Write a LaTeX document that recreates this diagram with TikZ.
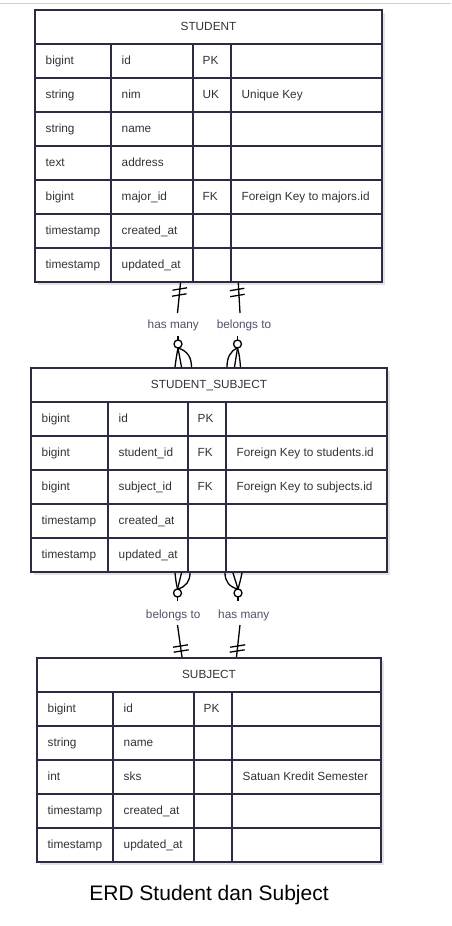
\documentclass[tikz,border=0pt]{standalone}
\usepackage{fontspec}
\setmainfont{Liberation Sans}
\usetikzlibrary{calc}
\definecolor{erdborder}{HTML}{2D2B42}
\definecolor{erdtext}{HTML}{333333}
\definecolor{erdlabel}{HTML}{505268}
\definecolor{erdshadow}{HTML}{E2E2E2}
\definecolor{topline}{HTML}{CFCFCF}

\tikzset{
  tablebox/.style={draw=erdborder, line width=1.8pt, fill=white, anchor=north west, inner sep=0pt, outer sep=0pt},
  gridline/.style={draw=erdborder, line width=1.8pt},
  celltext/.style={anchor=west, inner sep=0pt, text height=9pt, text depth=2.5pt, text=erdtext, font=\fontsize{11.8}{14}\selectfont},
  titletext/.style={anchor=center, inner sep=0pt, text height=9pt, text depth=2.5pt, text=erdtext, font=\fontsize{11.8}{14}\selectfont},
  rel/.style={anchor=center, inner sep=0pt, text height=9pt, text depth=2.5pt, text=erdlabel, font=\fontsize{11.8}{14}\selectfont},
  conn/.style={draw=black, line width=1.3pt},
  circ/.style={circle, draw=black, line width=1.3pt, fill=white, minimum size=8pt, inner sep=0pt, outer sep=0pt},
  caption/.style={anchor=base, inner sep=0pt, text=black, font=\fontsize{21}{25}\selectfont}
}

\newcommand{\erdtab}[9]{%
  \def\tL{#2}\def\tT{#3}\def\tA{#4}\def\tB{#5}\def\tC{#6}\def\tR{#7}%
  \pgfmathsetmacro{\tBot}{#3+34+34*#9}%
  \pgfmathsetmacro{\tW}{#7-#2}%
  \pgfmathsetmacro{\tH}{\tBot-#3}%
  \fill[erdshadow] (#2+3,#3+3) rectangle (#7+3,\tBot+3);
  \node[tablebox, minimum width=\tW pt, minimum height=\tH pt] (#1) at (#2,#3) {};
  \node[titletext] (#1-title) at ({(#2+#7)/2},#3+17) {#8};
  \foreach \k in {1,...,#9} {\draw[gridline] (#2,#3+34*\k) -- (#7,#3+34*\k);}
  \foreach \cx in {#4,#5,#6} {\draw[gridline] (\cx,#3+34) -- (\cx,\tBot);}
}

\newcommand{\erdrow}[6]{%
  \pgfmathsetmacro{\ry}{\tT+34*#2+17}%
  \node[celltext] (#1-#2-type) at (\tL+10.5,\ry) {#3};
  \node[celltext] (#1-#2-field) at (\tA+10.5,\ry) {#4};
  \if\relax\detokenize{#5}\relax\else\node[celltext] (#1-#2-key) at (\tB+9.5,\ry) {#5};\fi
  \if\relax\detokenize{#6}\relax\else\node[celltext] (#1-#2-note) at (\tC+10.5,\ry) {#6};\fi
}

\begin{document}
\begin{tikzpicture}[x=1pt, y=-1pt]
\useasboundingbox (0,0) rectangle (451,926);
\fill[white] (0,0) rectangle (451,926);
\draw[topline, line width=1pt] (0,3) -- (451,3);

% STUDENT
\erdtab{student}{35}{10}{111}{193}{231}{382}{STUDENT}{7}
\erdrow{student}{1}{bigint}{id}{PK}{}
\erdrow{student}{2}{string}{nim}{UK}{Unique Key}
\erdrow{student}{3}{string}{name}{}{}
\erdrow{student}{4}{text}{address}{}{}
\erdrow{student}{5}{bigint}{major\_id}{FK}{Foreign Key to majors.id}
\erdrow{student}{6}{timestamp}{created\_at}{}{}
\erdrow{student}{7}{timestamp}{updated\_at}{}{}

% STUDENT_SUBJECT
\erdtab{ss}{31}{368}{108}{188}{226}{387}{STUDENT\_SUBJECT}{5}
\erdrow{ss}{1}{bigint}{id}{PK}{}
\erdrow{ss}{2}{bigint}{student\_id}{FK}{Foreign Key to students.id}
\erdrow{ss}{3}{bigint}{subject\_id}{FK}{Foreign Key to subjects.id}
\erdrow{ss}{4}{timestamp}{created\_at}{}{}
\erdrow{ss}{5}{timestamp}{updated\_at}{}{}

% SUBJECT
\erdtab{subject}{37}{658}{113}{194}{232}{381}{SUBJECT}{5}
\erdrow{subject}{1}{bigint}{id}{PK}{}
\erdrow{subject}{2}{string}{name}{}{}
\erdrow{subject}{3}{int}{sks}{}{Satuan Kredit Semester}
\erdrow{subject}{4}{timestamp}{created\_at}{}{}
\erdrow{subject}{5}{timestamp}{updated\_at}{}{}

% ---- relation 1: STUDENT has many STUDENT_SUBJECT
\coordinate (r1-src) at (180.5,283);
\coordinate (r1-a) at (177.5,313);
\draw[conn] (r1-src) -- (r1-a);
\draw[conn] ($(r1-src)+(-8,7.2)$) -- ++(14.5,-2.4);
\draw[conn] ($(r1-src)+(-8.5,13.2)$) -- ++(14.5,-2.4);
\node[rel] (r1-label) at (173.3,325) {has many};
\coordinate (r1-b) at (178,336);
\node[circ] (r1-o) at (178,344) {};
\draw[conn] (r1-b) -- (r1-o.north);
\coordinate (r1-f1) at (175,367);
\coordinate (r1-f2) at (181.5,367);
\coordinate (r1-f3) at (191.5,367);
\draw[conn] (r1-o.south) .. controls (176.5,356) .. (r1-f1);
\draw[conn] (r1-o.south) -- (r1-f2);
\draw[conn] (r1-o.south) .. controls (188,351) and (191.5,358) .. (r1-f3);

% ---- relation 2: STUDENT_SUBJECT belongs to STUDENT
\coordinate (r2-src) at (238.3,283);
\coordinate (r2-a) at (240,313);
\draw[conn] (r2-src) -- (r2-a);
\draw[conn] ($(r2-src)+(-8.5,7.7)$) -- ++(14.5,-2.4);
\draw[conn] ($(r2-src)+(-8.1,13.7)$) -- ++(14.5,-2.4);
\node[rel] (r2-label) at (244,325) {belongs to};
\coordinate (r2-b) at (237.5,336);
\node[circ] (r2-o) at (237.5,344) {};
\draw[conn] (r2-b) -- (r2-o.north);
\coordinate (r2-f1) at (227,367);
\coordinate (r2-f2) at (234.5,367);
\coordinate (r2-f3) at (240.5,367);
\draw[conn] (r2-o.south) .. controls (230,351) and (227,358) .. (r2-f1);
\draw[conn] (r2-o.south) -- (r2-f2);
\draw[conn] (r2-o.south) .. controls (239.5,356) .. (r2-f3);

% ---- relation 3: STUDENT_SUBJECT belongs to SUBJECT
\coordinate (r3-f1) at (175,573);
\coordinate (r3-f2) at (181.5,573);
\coordinate (r3-f3) at (190,573);
\node[circ] (r3-o) at (177.5,593) {};
\draw[conn] (r3-o.north) .. controls (176,582) .. (r3-f1);
\draw[conn] (r3-o.north) -- (r3-f2);
\draw[conn] (r3-o.north) .. controls (186,587) and (190,581) .. (r3-f3);
\coordinate (r3-b) at (177.5,601);
\draw[conn] (r3-o.south) -- (r3-b);
\node[rel] (r3-label) at (173.2,615) {belongs to};
\coordinate (r3-c) at (177.5,625);
\coordinate (r3-dst) at (182,657);
\draw[conn] (r3-c) -- (r3-dst);
\draw[conn] ($(r3-dst)+(-9,-9.8)$) -- ++(15,-2.4);
\draw[conn] ($(r3-dst)+(-8.3,-4.8)$) -- ++(15,-2.4);

% ---- relation 4: SUBJECT has many STUDENT_SUBJECT
\coordinate (r4-f1) at (225,573);
\coordinate (r4-f2) at (233,573);
\coordinate (r4-f3) at (242,573);
\node[circ] (r4-o) at (238,593) {};
\draw[conn] (r4-o.north) .. controls (229,587) and (225,581) .. (r4-f1);
\draw[conn] (r4-o.north) -- (r4-f2);
\draw[conn] (r4-o.north) .. controls (240,582) .. (r4-f3);
\coordinate (r4-b) at (238,601);
\draw[conn] (r4-o.south) -- (r4-b);
\node[rel] (r4-label) at (243.8,615) {has many};
\coordinate (r4-c) at (240,625);
\coordinate (r4-dst) at (236.5,657);
\draw[conn] (r4-c) -- (r4-dst);
\draw[conn] ($(r4-dst)+(-6.3,-9.8)$) -- ++(15,-2.4);
\draw[conn] ($(r4-dst)+(-6.8,-4.8)$) -- ++(15,-2.4);

% caption
\node[caption] (caption) at (209,900) {ERD Student dan Subject};
\end{tikzpicture}
\end{document}
